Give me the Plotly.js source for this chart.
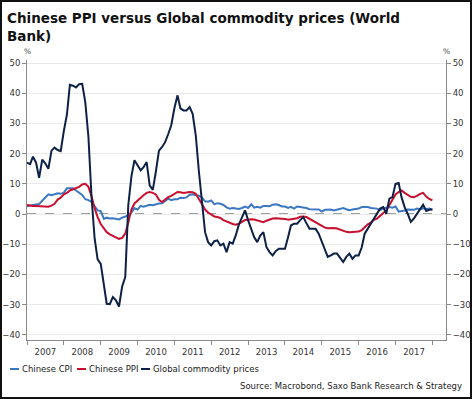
<!DOCTYPE html>
<html>
<head>
<meta charset="utf-8">
<script src="https://cdn.plot.ly/plotly-3.0.1.min.js"></script>
<style>
  html, body { margin: 0; padding: 0; background: #fff; }
  #wrap { position: relative; width: 472px; height: 399px; }
  #chart { width: 472px; height: 399px; }
  #frame { position: absolute; left: 0; top: 0; width: 472px; height: 399px; box-sizing: border-box; border: 2px solid #111; pointer-events: none; }
</style>
</head>
<body>
<div id="wrap"><div id="chart"></div><div id="frame"></div></div>
<script>
// Monthly data, Jan 2007 .. Jan 2018 (y/y %)
const startYear = 2007;
const startMonth = 1;

const chineseCPI = [
  2.6, 2.7, 3.0, 3.2, 3.3, 4.4, 5.6, 6.5, 6.2, 6.5, 6.9, 6.7,
  7.1, 8.5, 8.4, 8.5, 7.8, 7.1, 6.3, 4.9, 4.6, 4.0, 2.4, 1.2,
  1.0, -1.6, -1.2, -1.5, -1.4, -1.7, -1.8, -1.2, -0.8, -0.5, 0.6, 1.9,
  1.5, 2.7, 2.4, 2.8, 3.1, 2.9, 3.3, 3.5, 3.6, 4.4, 5.1, 4.6,
  4.9, 4.9, 5.4, 5.3, 5.5, 6.4, 6.5, 6.2, 6.1, 5.5, 4.2, 4.1,
  4.5, 3.2, 3.6, 3.4, 3.0, 2.2, 1.8, 2.0, 1.9, 1.7, 2.0, 2.5,
  2.0, 3.2, 2.1, 2.4, 2.1, 2.7, 2.7, 2.6, 3.1, 3.2, 3.0, 2.5,
  2.5, 2.0, 2.4, 1.8, 2.5, 2.3, 2.3, 2.0, 1.6, 1.6, 1.4, 1.5,
  0.8, 1.4, 1.4, 1.5, 1.2, 1.4, 1.6, 2.0, 1.6, 1.3, 1.5, 1.6,
  1.8, 2.3, 2.3, 2.3, 2.0, 1.9, 1.8, 1.3, 1.9, 2.1, 2.3, 2.1,
  2.5, 0.8, 0.9, 1.2, 1.5, 1.5, 1.4, 1.8, 1.6, 1.9, 1.7, 1.8,
  1.5
];

const chinesePPI = [
  3.0, 2.8, 2.7, 2.7, 2.6, 2.5, 2.4, 2.4, 2.8, 3.4, 4.8, 5.4,
  6.5, 7.0, 7.8, 8.2, 8.6, 9.0, 9.8, 10.0, 9.0, 6.0, 2.0, -1.0,
  -3.3, -4.8, -6.0, -6.7, -7.2, -7.8, -8.2, -7.9, -6.5, -2.8, 1.5, 3.5,
  4.5, 5.5, 6.2, 7.0, 7.3, 7.0, 6.5, 4.7, 4.0, 4.8, 5.6, 6.0,
  6.6, 7.3, 7.2, 7.0, 7.1, 7.3, 7.2, 6.7, 5.0, 3.5, 1.5, 0.5,
  -0.3, -0.8, -1.0, -1.3, -2.0, -2.4, -3.0, -3.3, -3.5, -3.2, -2.6, -2.0,
  -1.9, -1.7, -1.8, -2.1, -2.4, -2.7, -2.2, -1.8, -1.5, -1.4, -1.4, -1.4,
  -1.6, -1.9, -1.8, -1.7, -1.4, -0.9, -0.8, -1.0, -1.6, -2.0, -2.7, -3.3,
  -4.0, -4.5, -4.7, -4.6, -4.6, -4.8, -5.2, -5.7, -5.9, -6.0, -6.0, -6.0,
  -5.8, -5.3, -4.3, -3.4, -2.8, -1.9, -1.5, -0.6, 0.3, 1.2, 3.0, 4.7,
  6.5, 7.3, 7.8, 7.0, 6.3, 5.7, 5.6, 6.0, 6.7, 7.0, 5.8, 5.0,
  4.5
];

const globalCommodity = [
  17.0, 16.5, 19.0, 17.0, 12.0, 18.0, 16.8, 15.0, 21.0, 22.0, 21.2, 20.8,
  27.5, 33.0, 42.8, 42.5, 41.9, 43.0, 43.1, 37.0, 25.5, 6.0, -8.0, -15.0,
  -16.5, -24.0, -29.7, -29.8, -27.5, -28.6, -30.6, -24.0, -20.9, 3.0, 12.5, 17.8,
  16.1, 14.5, 15.5, 17.2, 9.5, 8.0, 14.0, 21.0, 22.2, 23.8, 26.5, 29.4,
  35.0, 39.3, 35.0, 34.3, 34.3, 35.4, 33.2, 26.0, 14.0, 3.0, -6.0, -9.3,
  -10.4, -9.0, -8.7, -10.4, -9.8, -12.6, -9.3, -9.8, -7.0, -3.5, -1.0, 1.2,
  -2.1, -5.0, -7.6, -9.3, -7.1, -6.0, -10.9, -12.6, -13.7, -12.3, -11.5, -11.5,
  -11.5, -7.6, -3.8, -3.2, -3.2, -2.0, -1.0, -3.0, -4.9, -4.9, -4.9, -6.5,
  -9.0, -12.0, -14.2, -13.7, -13.1, -13.1, -14.5, -15.9, -14.2, -13.1, -14.8, -13.7,
  -13.7, -11.0, -6.5, -4.9, -3.2, -1.5, 0.1, 1.8, 2.3, 0.1, 5.1, 5.6,
  10.0, 10.3, 5.6, 2.3, 0.1, -2.6, -1.5, 0.1, 2.0, 3.1, 1.0, 1.4,
  1.5
];

const seriesNames = ["Chinese CPI", "Chinese PPI", "Global commodity prices"];
const seriesColors = ["#3b78c4", "#c8102e", "#0d2146"];
const yTickVals = [-40, -30, -20, -10, 0, 10, 20, 30, 40, 50];

function monthDates(n) {
  const out = [];
  for (let i = 0; i < n; i++) {
    const y = startYear + Math.floor((startMonth - 1 + i) / 12);
    const m = ((startMonth - 1 + i) % 12) + 1;
    out.push(y + "-" + String(m).padStart(2, "0") + "-01");
  }
  return out;
}
const dates = monthDates(globalCommodity.length);

const FONT = "DejaVu Sans, Verdana, sans-serif";
const W = 472, H = 399;
const M = { l: 27, r: 26, t: 60, b: 59 };
const PW = W - M.l - M.r, PH = H - M.t - M.b;
// pixel -> paper helpers (for layout placement only)
const px = (x) => (x - M.l) / PW;
const py = (y) => (H - M.b - y) / PH;

const traces = [chineseCPI, chinesePPI, globalCommodity].map((vals, i) => ({
  type: "scatter",
  mode: "lines",
  x: dates,
  y: vals,
  name: seriesNames[i],
  line: { color: seriesColors[i], width: 2 },
  showlegend: false,
  hoverinfo: "x+y+name"
}));
// invisible companion trace so the right-hand axis is drawn
traces.push({
  type: "scatter", mode: "lines", x: [dates[0]], y: [null],
  yaxis: "y2", showlegend: false, hoverinfo: "skip"
});

const yCommon = {
  range: [-41.7, 51],
  tickvals: yTickVals,
  showline: true,
  linecolor: "#8a8a8a",
  linewidth: 1,
  ticks: "outside",
  ticklen: 4,
  tickcolor: "#8a8a8a",
  tickfont: { family: FONT, size: 8.5, color: "#333" },
  zeroline: false,
  fixedrange: true
};

// legend built from the series names/colours
const legendX = [10, 77, 141];
const legendY = 369;
const legendShapes = seriesNames.map((n, i) => ({
  type: "line", xref: "paper", yref: "paper",
  x0: px(legendX[i]), x1: px(legendX[i] + 9), y0: py(legendY), y1: py(legendY),
  line: { color: seriesColors[i], width: 2 }
}));
const legendTexts = seriesNames.map((n, i) => ({
  text: n, xref: "paper", yref: "paper",
  x: px(legendX[i] + 10), y: py(legendY), xanchor: "left", yanchor: "middle",
  showarrow: false, font: { family: FONT, size: 8.5, color: "#222" }
}));

const layout = {
  width: W,
  height: H,
  margin: M,
  paper_bgcolor: "#fff",
  plot_bgcolor: "#fff",
  font: { family: FONT, size: 8.5, color: "#333" },
  title: {
    text: "Chinese PPI versus Global commodity prices (World<br>Bank)",
    x: 7 / W, xanchor: "left", xref: "container",
    y: 1 - 23 / H, yanchor: "middle", yref: "container",
    font: { family: FONT, size: 13.5, color: "#111", weight: "bold" }
  },
  xaxis: {
    type: "date",
    range: ["2007-01-01", "2018-05-16"],
    tick0: "2007-01-01",
    dtick: "M12",
    tickformat: "%Y",
    ticklabelmode: "period",
    showgrid: false,
    showline: true,
    linecolor: "#8a8a8a",
    ticks: "outside",
    ticklen: 4,
    tickcolor: "#8a8a8a",
    tickfont: { family: FONT, size: 8.5, color: "#333" },
    zeroline: false,
    fixedrange: true
  },
  yaxis: Object.assign({}, yCommon, {
    side: "left",
    showgrid: true,
    gridcolor: "#e9e9e9",
    gridwidth: 1
  }),
  yaxis2: Object.assign({}, yCommon, {
    side: "right",
    overlaying: "y",
    anchor: "x",
    showgrid: false,
    matches: "y"
  }),
  shapes: [{
    type: "line", xref: "paper", x0: 0, x1: 1, yref: "y", y0: 0, y1: 0,
    line: { color: "#808080", width: 1.5, dash: "dash" }, layer: "below"
  }].concat(legendShapes),
  annotations: [
    { text: "%", xref: "paper", yref: "paper", x: 0, y: 1, xanchor: "center", yanchor: "bottom",
      yshift: 2, showarrow: false, font: { family: FONT, size: 7.5, color: "#444" } },
    { text: "%", xref: "paper", yref: "paper", x: 1, y: 1, xanchor: "center", yanchor: "bottom",
      yshift: 2, showarrow: false, font: { family: FONT, size: 7.5, color: "#444" } },
    { text: "Source: Macrobond, Saxo Bank Research & Strategy", xref: "paper", yref: "paper",
      x: px(464), y: py(386), xanchor: "right", yanchor: "middle",
      showarrow: false, font: { family: FONT, size: 8.5, color: "#222" } }
  ].concat(legendTexts),
  showlegend: false
};

Plotly.newPlot("chart", traces, layout, { staticPlot: true, displayModeBar: false });
</script>
</body>
</html>
